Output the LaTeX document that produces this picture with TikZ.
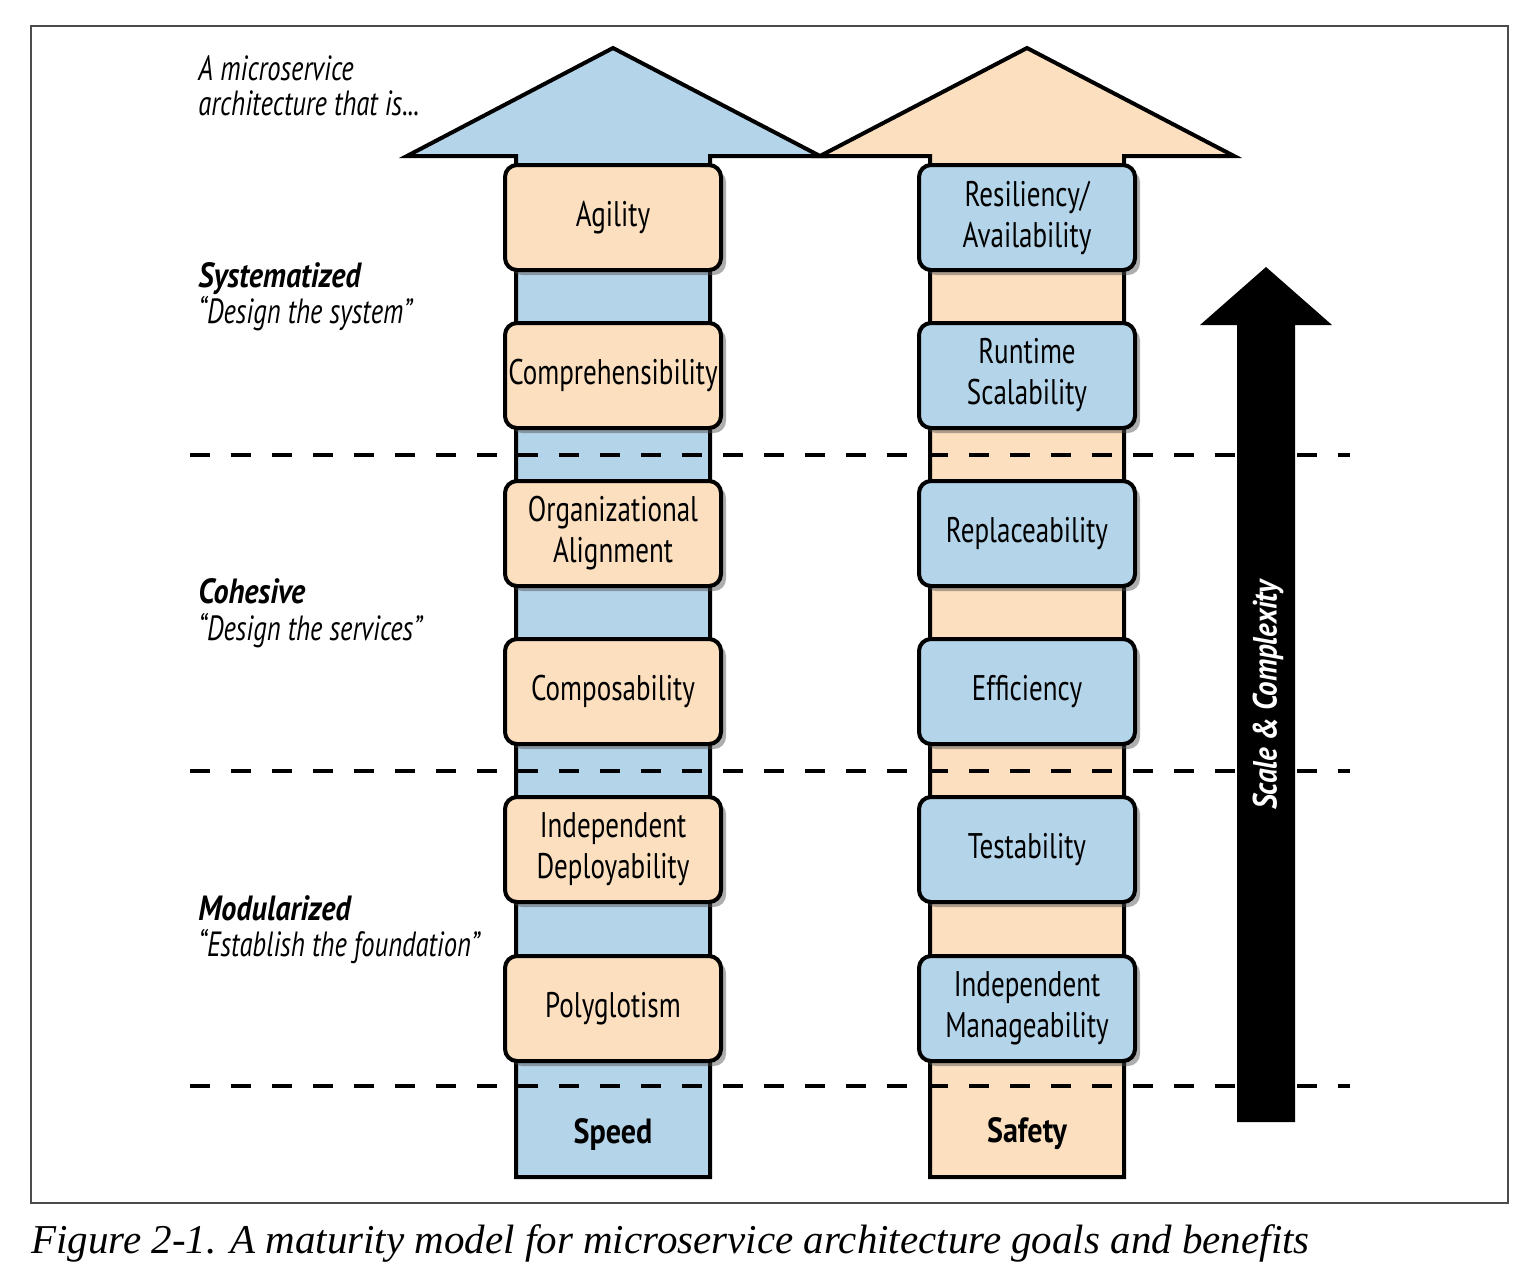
\documentclass[tikz,border=0pt]{standalone}
\usepackage{fontspec}
\setmainfont{Liberation Serif}
\newfontfamily\cond[FakeStretch=0.76]{PT Sans}
\newfontfamily\condB[FakeStretch=0.86]{PT Sans}
\usetikzlibrary{shadows}
\definecolor{lblue}{HTML}{B4D4EA}
\definecolor{lpeach}{HTML}{FBDFBF}
\tikzset{
  goal/.style={draw=black, line width=2pt, rounded corners=6pt, minimum width=108pt, minimum height=52.5pt,
    inner sep=0pt, align=center, font=\cond\fontsize{17.8}{20.5}\selectfont,
    drop shadow={shadow xshift=2.5pt, shadow yshift=-2.5pt, opacity=0.45, fill=black!70}},
  peachgoal/.style={goal, fill=lpeach},
  bluegoal/.style={goal, fill=lblue},
  column/.style={draw=black, line width=2pt, line join=miter},
  level/.style={dashed, dash pattern=on 10pt off 10.5pt, line width=1.6pt},
  lvlname/.style={anchor=base west, inner sep=0pt, font=\condB\bfseries\itshape\fontsize{17.5}{19}\selectfont},
  lvlsub/.style={anchor=base west, inner sep=0pt, font=\cond\itshape\fontsize{17.5}{19}\selectfont},
}
\begin{document}
\begin{tikzpicture}[x=0.5pt,y=-0.5pt]
\useasboundingbox (0,0) rectangle (1534,1276);
\draw[draw=black!70, line width=0.6pt] (31,26) rectangle (1508,1203);

% columns
\draw[column, fill=lblue] (516,1177) -- (516,156) -- (407,156) -- (613,48) -- (820,156) -- (710,156) -- (710,1177) -- cycle;
\draw[column, fill=lpeach] (930,1177) -- (930,156) -- (820,156) -- (1027,48) -- (1234,156) -- (1124,156) -- (1124,1177) -- cycle;

% level lines
\draw[level] (190,455) -- (1350,455);
\draw[level] (190,771) -- (1350,771);
\draw[level] (190,1086) -- (1350,1086);

% scale arrow
\fill[black] (1237,1122) -- (1237,325) -- (1200,325) -- (1266,267) -- (1332,325) -- (1295,325) -- (1295,1122) -- cycle;
\node[rotate=90, text=white, font=\condB\bfseries\itshape\fontsize{16.8}{20}\selectfont] (scale) at (1268,695) {Scale \& Complexity};

% left goals
\node[peachgoal] (agility) at (613,217.5) {Agility};
\node[peachgoal] (compr) at (613,375.5) {Comprehensibility};
\node[peachgoal] (org) at (613,533.5) {Organizational\\Alignment};
\node[peachgoal] (compos) at (613,691.5) {Composability};
\node[peachgoal] (deploy) at (613,849.5) {Independent\\Deployability};
\node[peachgoal] (poly) at (613,1008.5) {Polyglotism};

% right goals
\node[bluegoal] (resil) at (1027,217.5) {Resiliency/\\Availability};
\node[bluegoal] (runtime) at (1027,375.5) {Runtime\\Scalability};
\node[bluegoal] (replace) at (1027,533.5) {Replaceability};
\node[bluegoal] (effic) at (1027,691.5) {Efficiency};
\node[bluegoal] (test) at (1027,849.5) {Testability};
\node[bluegoal] (manage) at (1027,1008.5) {Independent\\Manageability};

\node[font=\condB\bfseries\fontsize{17.5}{20}\selectfont] (speed) at (613,1134) {Speed};
\node[font=\condB\bfseries\fontsize{17.5}{20}\selectfont] (safety) at (1027,1134) {Safety};

% left texts
\node[lvlsub] (intro1) at (198,80) {A microservice};
\node[lvlsub] (intro2) at (198,115) {architecture that is...};
\node[lvlname] (sys) at (198,287) {Systematized};
\node[lvlsub] (sysd) at (198,323) {“Design the system”};
\node[lvlname] (coh) at (198,603) {Cohesive};
\node[lvlsub] (cohd) at (198,640) {“Design the services”};
\node[lvlname] (mod) at (198,920) {Modularized};
\node[lvlsub] (modd) at (198,956) {“Establish the foundation”};

% caption
\node[anchor=base west, inner sep=0pt, font=\itshape\fontsize{20.5}{22}\selectfont] (caption) at (31,1253) {Figure 2-1. A maturity model for microservice architecture goals and benefits};
\end{tikzpicture}
\end{document}
